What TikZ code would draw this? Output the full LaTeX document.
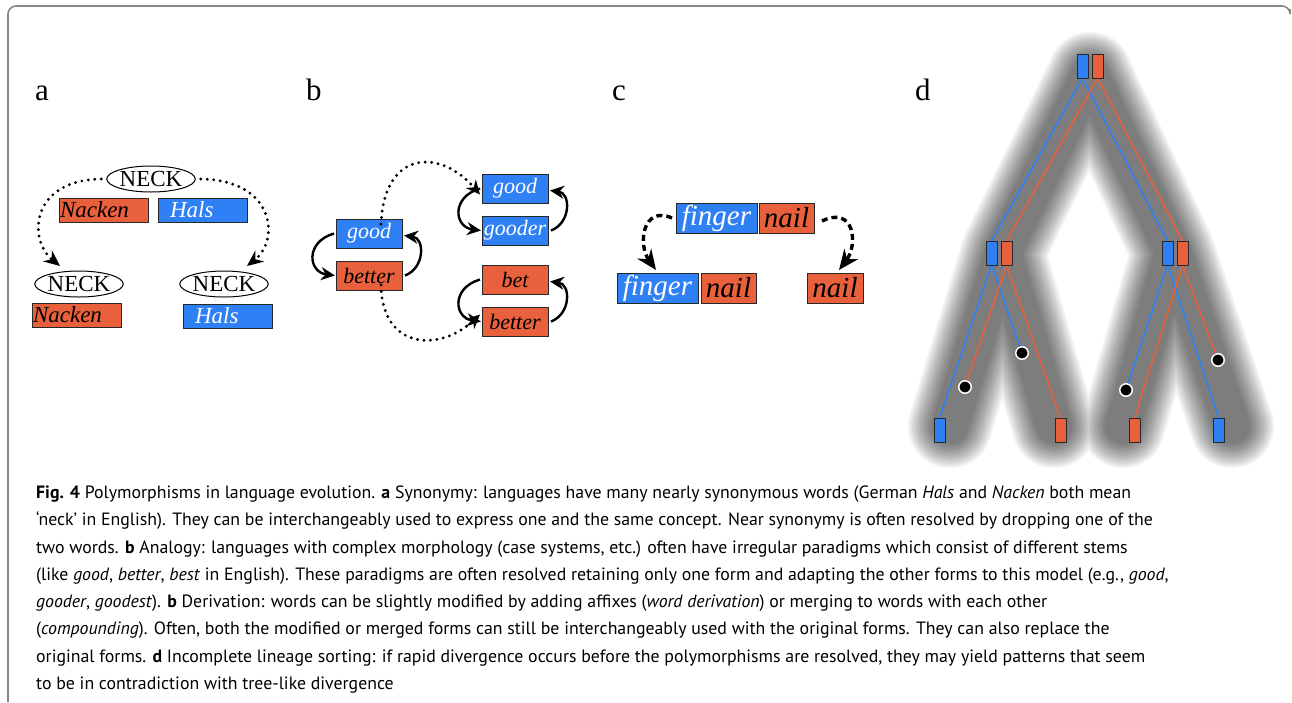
\documentclass[tikz,border=0pt]{standalone}
\usepackage{fontspec}
\setmainfont{Liberation Serif}[ItalicFont={Liberation Serif Italic},BoldFont={Liberation Serif Bold}]
\newfontfamily\seritfont{Liberation Serif Italic}
\newfontfamily\capfont{PT Sans}
\usetikzlibrary{arrows.meta,shapes.geometric}
\definecolor{wblue}{RGB}{47,128,245}
\definecolor{wred}{RGB}{232,96,60}
\definecolor{framegray}{RGB}{135,135,135}
\definecolor{edgecol}{RGB}{40,40,40}
\tikzset{
  wordbox/.style={draw=edgecol, line width=1pt, inner sep=0pt, outer sep=0pt},
  bluebox/.style={wordbox, fill=wblue, text=white},
  redbox/.style={wordbox, fill=wred, text=black},
  sizeA/.style={minimum width=89pt, minimum height=24pt, font=\seritfont\fontsize{23}{23}\selectfont},
  sizeB/.style={minimum width=66pt, minimum height=29pt, font=\seritfont\fontsize{22}{22}\selectfont},
  sizeC/.style={minimum height=30pt, font=\seritfont\fontsize{29}{29}\selectfont},
  concept/.style={ellipse, draw=black, line width=1pt, minimum width=88pt, minimum height=26pt, inner sep=0pt, font=\fontsize{23}{23}\selectfont},
  panel/.style={font=\fontsize{31}{31}\selectfont, anchor=base west, inner sep=0pt},
  dotarrow/.style={line width=3.2pt, dash pattern=on 0pt off 6.5pt, line cap=round, -{Stealth[length=16pt,width=14pt]}},
  dotarrowb/.style={line width=3.2pt, dash pattern=on 0pt off 6.5pt, line cap=round, -{Stealth[length=14pt,width=13pt]}},
  bendarrow/.style={line width=2.4pt, -{Stealth[length=14pt,width=13pt]}},
  dasharrow/.style={line width=3.4pt, dash pattern=on 6pt off 4pt, -{Stealth[length=20pt,width=17pt]}},
  tbox/.style={draw=edgecol, line width=1pt, minimum width=11pt, minimum height=24pt, inner sep=0pt, outer sep=0pt},
  tblue/.style={tbox, fill=wblue},
  tred/.style={tbox, fill=wred},
  bline/.style={draw=wblue, line width=1.6pt},
  rline/.style={draw=wred, line width=1.6pt},
  lostdot/.style={circle, fill=black, draw=white, line width=1pt, minimum size=13pt, inner sep=0pt},
  captext/.style={anchor=base west, inner sep=0pt, font=\capfont\fontsize{17.8}{18}\selectfont},
}
\begin{document}
\begin{tikzpicture}[x=1pt,y=-1pt]
\useasboundingbox (0,0) rectangle (1292,702);
\fill[white] (0,0) rectangle (1292,702);
% frame
\draw[framegray, line width=1.6pt, rounded corners=8pt] (8,702) -- (8,6) -- (1290,6) -- (1290,9);

% panel labels
\node[panel] (la) at (35,100) {a};
\node[panel] (lb) at (306,100) {b};
\node[panel] (lc) at (612,100) {c};
\node[panel] (ld) at (915,100) {d};

% ---------------- panel a
\node[concept] (n0) at (151,179) {NECK};
\node[redbox, sizeA, anchor=north west, text width=87pt, inner xsep=1pt, align=left] (nk0) at (59,198) {Nacken};
\node[bluebox, sizeA, anchor=north west, text width=65pt, inner xsep=12pt, align=left] (hs0) at (158,198) {Hals};
\node[concept] (n1) at (79,284) {NECK};
\node[redbox, sizeA, anchor=north west, text width=87pt, inner xsep=1pt, align=left] (nk1) at (32,303) {Nacken};
\node[concept] (n2) at (224,284) {NECK};
\node[bluebox, sizeA, anchor=north west, text width=65pt, inner xsep=12pt, align=left] (hs2) at (183,304) {Hals};
\coordinate (ta1) at (60,266);
\coordinate (ta2) at (247,266);
\draw[dotarrow] ([xshift=-5pt]n0.west) .. controls (30,180) and (28,240) .. (ta1);
\draw[dotarrow] ([xshift=5pt]n0.east) .. controls (275,180) and (280,240) .. (ta2);

% ---------------- panel b
\node[bluebox, sizeB, anchor=north west] (g1) at (336,219) {good};
\node[redbox, sizeB, anchor=north west] (b1) at (336,261) {better};
\node[bluebox, sizeB, anchor=north west] (g2) at (482,174) {good};
\node[bluebox, sizeB, anchor=north west] (g3) at (482,216) {gooder};
\node[redbox, sizeB, anchor=north west] (b2) at (482,265) {bet};
\node[redbox, sizeB, anchor=north west] (b3) at (482,307) {better};
\draw[bendarrow] ([xshift=-2pt]g1.west) .. controls (305,242) and (308,272) .. ([xshift=-1pt]b1.west);
\draw[bendarrow] ([xshift=3pt]b1.east) .. controls (425,268) and (425,238) .. ([xshift=2pt,yshift=-2pt]g1.east);
\draw[bendarrow] ([xshift=-2pt]g2.west) .. controls (451,197) and (454,227) .. ([xshift=-1pt]g3.west);
\draw[bendarrow] ([xshift=3pt]g3.east) .. controls (571,223) and (571,193) .. ([xshift=2pt,yshift=-2pt]g2.east);
\draw[bendarrow] ([xshift=-2pt]b2.west) .. controls (451,288) and (454,318) .. ([xshift=-1pt]b3.west);
\draw[bendarrow] ([xshift=3pt]b3.east) .. controls (571,314) and (571,284) .. ([xshift=2pt,yshift=-2pt]b2.east);
\draw[dotarrowb] ([xshift=12pt,yshift=-5pt]g1.north) .. controls (384,150) and (440,148) .. ([xshift=-2pt,yshift=-6pt]g2.west);
\draw[dotarrowb] ([xshift=12pt,yshift=5pt]b1.south) .. controls (382,350) and (440,352) .. ([xshift=-2pt,yshift=7pt]b3.west);

% ---------------- panel c
\node[bluebox, sizeC, minimum width=81pt, anchor=north west] (f1) at (676,203) {finger};
\node[redbox, sizeC, minimum width=55pt, anchor=north west] (nl1) at (759,203) {nail};
\node[bluebox, sizeC, minimum width=81pt, anchor=north west] (f2) at (617,273) {finger};
\node[redbox, sizeC, minimum width=55pt, anchor=north west] (nl2) at (701,273) {nail};
\node[redbox, sizeC, minimum width=56pt, anchor=north west] (nl3) at (807,273) {nail};
\coordinate (tc1) at (656,270);
\coordinate (tc2) at (839,270);
\draw[dasharrow] ([xshift=-4pt]f1.west) .. controls (642,205) and (638,245) .. (tc1);
\draw[dasharrow] ([xshift=8pt,yshift=-3pt]nl1.east) .. controls (855,205) and (858,245) .. (tc2);

% ---------------- panel d
\foreach \w in {36,40,...,84}{
  \draw[black, opacity=0.052, line width=\w pt, line cap=round, line join=round]
    (950,426) -- (1003,252) -- (1090,74) -- (1173,252) -- (1232,426)
    (1003,252) -- (1054,426)
    (1173,252) -- (1123,426);
}
\node[tblue, anchor=north west] (dTb) at (1077,54) {};
\node[tred, anchor=north west] (dTr) at (1092,54) {};
\node[tblue, anchor=north west] (dLb) at (986,241) {};
\node[tred, anchor=north west] (dLr) at (1001,241) {};
\node[tblue, anchor=north west] (dRb) at (1162,241) {};
\node[tred, anchor=north west] (dRr) at (1177,241) {};
\node[tblue, anchor=north west] (dl1) at (934,418) {};
\node[tred, anchor=north west] (dl2) at (1055,418) {};
\node[tred, anchor=north west] (dl3) at (1129,418) {};
\node[tblue, anchor=north west] (dl4) at (1213,418) {};
\node[lostdot] (dot1) at (1022,353) {};
\node[lostdot] (dot2) at (965,387) {};
\node[lostdot] (dot3) at (1126,390) {};
\node[lostdot] (dot4) at (1218,360) {};
\draw[bline] (dTb.south) -- (dLb.north);
\draw[bline] (dTb.south) -- (dRb.north);
\draw[rline] (dTr.south) -- (dLr.north);
\draw[rline] (dTr.south) -- (dRr.north);
\draw[bline] (dLb.south) -- (dl1.north);
\draw[bline] (dLb.south) -- (dot1);
\draw[rline] (dLr.south) -- (dot2);
\draw[rline] (dLr.south) -- (dl2.north);
\draw[bline] (dRb.south) -- (dot3);
\draw[bline] (dRb.south) -- (dl4.north);
\draw[rline] (dRr.south) -- (dl3.north);
\draw[rline] (dRr.south) -- (dot4);
% redraw boxes and dots on top of the lines
\foreach \n/\s in {dTb/tblue,dTr/tred,dLb/tblue,dLr/tred,dRb/tblue,dRr/tred,dl1/tblue,dl2/tred,dl3/tred,dl4/tblue}{
  \path[\s] (\n.north west) rectangle (\n.south east);
}
\foreach \n in {dot1,dot2,dot3,dot4}{
  \fill[black] (\n) circle (6pt);
  \draw[white, line width=1pt] (\n) circle (6pt);
}

% ---------------- caption
\node[captext] (c1) at (36,498) {\textbf{Fig. 4} Polymorphisms in language evolution. \textbf{a} Synonymy: languages have many nearly synonymous words (German \textit{Hals} and \textit{Nacken} both mean};
\node[captext] (c2) at (36,525) {‘neck’ in English). They can be interchangeably used to express one and the same concept. Near synonymy is often resolved by dropping one of the};
\node[captext] (c3) at (36,553) {two words. \textbf{b} Analogy: languages with complex morphology (case systems, etc.) often have irregular paradigms which consist of different stems};
\node[captext] (c4) at (36,580) {(like \textit{good}, \textit{better}, \textit{best} in English). These paradigms are often resolved retaining only one form and adapting the other forms to this model (e.g., \textit{good},};
\node[captext] (c5) at (36,607) {\textit{gooder}, \textit{goodest}). \textbf{b} Derivation: words can be slightly modified by adding affixes (\textit{word derivation}) or merging to words with each other};
\node[captext] (c6) at (36,634) {(\textit{compounding}). Often, both the modified or merged forms can still be interchangeably used with the original forms. They can also replace the};
\node[captext] (c7) at (36,662) {original forms. \textbf{d} Incomplete lineage sorting: if rapid divergence occurs before the polymorphisms are resolved, they may yield patterns that seem};
\node[captext] (c8) at (36,689) {to be in contradiction with tree-like divergence};
\end{tikzpicture}
\end{document}
